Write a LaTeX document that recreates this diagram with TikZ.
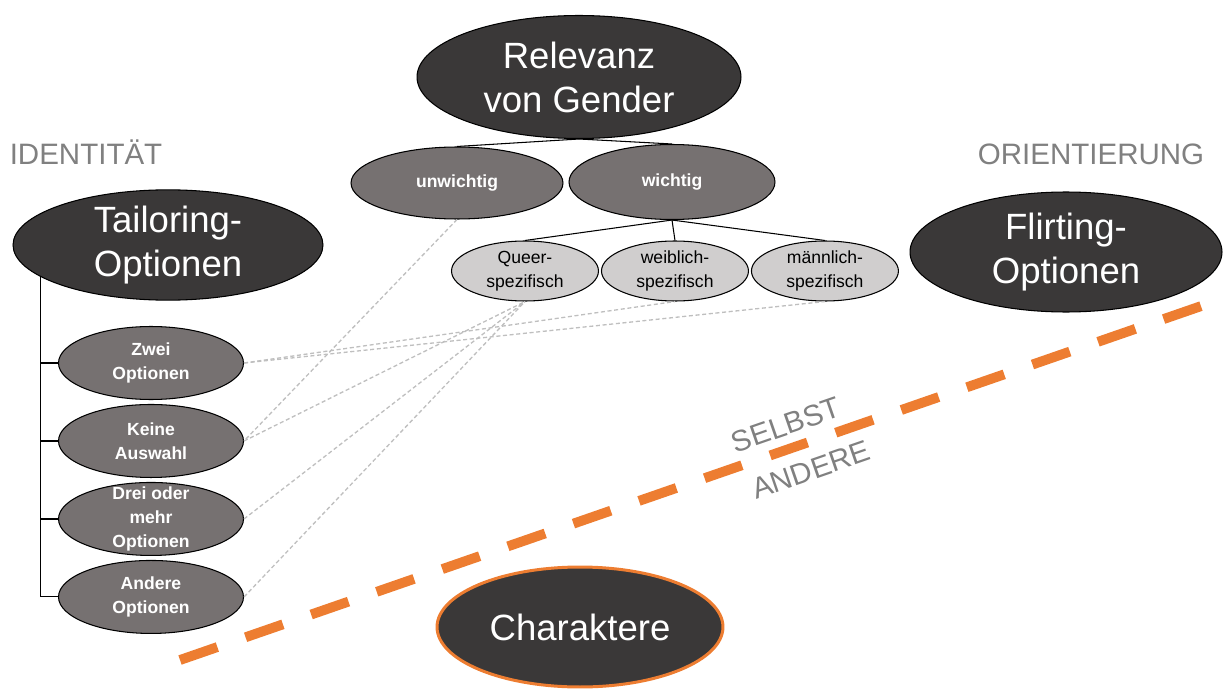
\documentclass[tikz,border=0pt]{standalone}
\usepackage{fontspec}
\setmainfont{Liberation Sans}
\usetikzlibrary{shapes.geometric}
\definecolor{darkfill}{HTML}{3A3838}
\definecolor{midfill}{HTML}{767171}
\definecolor{lightfill}{HTML}{D0CECE}
\definecolor{divider}{HTML}{ED7D31}
\definecolor{caption}{HTML}{808080}
\definecolor{linkgray}{HTML}{BFBFBF}

\begin{document}
\begin{tikzpicture}[x=0.02cm, y=-0.02cm, line width=0.6pt,
    main/.style = {draw, ellipse, fill=darkfill, text=white, align=center, inner sep=0pt, font=\fontsize{20.8}{25}\selectfont},
    sub/.style = {draw, ellipse, fill=midfill, text=white, align=center, inner sep=0pt, font=\fontsize{10}{13.5}\selectfont\bfseries, minimum width=3.7cm, minimum height=1.46cm},
    leaf/.style = {draw, ellipse, fill=lightfill, align=center, inner sep=0pt, font=\fontsize{10}{13.5}\selectfont, minimum width=2.94cm, minimum height=1.2cm},
    side/.style = {text=caption, inner sep=0pt, font=\fontsize{16.8}{19}\selectfont},
    link/.style = {draw=linkgray, dash pattern=on 2.3pt off 1.5pt, line width=0.75pt}]
    \useasboundingbox (0,0) rectangle (1223,689);
    \node[main, minimum width=6.48cm, minimum height=2.46cm] (1) at (579,77) {Relevanz\\von Gender};
    \node[sub, minimum width=4.24cm, minimum height=1.44cm] (2) at (457,183) {unwichtig};
    \node[sub, minimum width=4.12cm, minimum height=1.5cm] (3) at (672,182) {wichtig};
    \node[leaf] (4) at (525,271) {Queer-\\spezifisch};
    \node[leaf, node distance=3cm] (5) [right of=4] {weiblich-\\spezifisch};
    \node[leaf, node distance=3cm] (6) [right of=5] {männlich-\\spezifisch};
    \node[main, minimum width=6.2cm, minimum height=2.2cm] (7) at (168,245) {Tailoring-\\Optionen};
    \node[sub] (8) at (151,363) {Zwei\\Optionen};
    \node[sub, node distance=1.56cm] (9) [below of=8] {Keine\\Auswahl};
    \node[sub, node distance=1.56cm, inner ysep=-4pt] (10) [below of=9] {Drei oder\\mehr\\Optionen};
    \node[sub, node distance=1.56cm] (11) [below of=10] {Andere\\Optionen};
    \node[main, minimum width=6.24cm, minimum height=2.4cm] (12) at (1066,252) {Flirting-\\Optionen};
    \node[main, draw=divider, line width=1.7pt, minimum width=5.72cm, minimum height=2.4cm] (13) at (580,627) {Charaktere};
    \node[side, anchor=base] (14) at (86,165) {IDENTITÄT};
    \node[side, anchor=base] (15) at (1091,165) {ORIENTIERUNG};
    \coordinate (16) at (180,660);
    \coordinate (17) at (1210,303);
    \draw[divider, line width=5.6pt, dash pattern=on 22.5pt off 17pt] (16) -- (17);
    \node[side, rotate=19.1] (18) at (786,425) {SELBST};
    \node[side, rotate=19.1] (19) at (811,470) {ANDERE};
    \draw (1.south) -- (2.north);
    \draw (1.south) -- (3.north);
    \draw (3.south) -- (4.north);
    \draw (3.south) -- (5.north);
    \draw (3.south) -- (6.north);
    \draw (7.194) |- (11.west);
    \draw (7.194 |- 8.west) -- (8.west);
    \draw (7.194 |- 9.west) -- (9.west);
    \draw (7.194 |- 10.west) -- (10.west);
    \draw[link] (2.south) -- (9.east);
    \draw[link] (8.east) -- (5.south);
    \draw[link] (8.east) -- (6.south);
    \draw[link] (9.east) -- (4.south);
    \draw[link] (10.east) -- (4.south);
    \draw[link] (11.east) -- (4.south);
\end{tikzpicture}
\end{document}
